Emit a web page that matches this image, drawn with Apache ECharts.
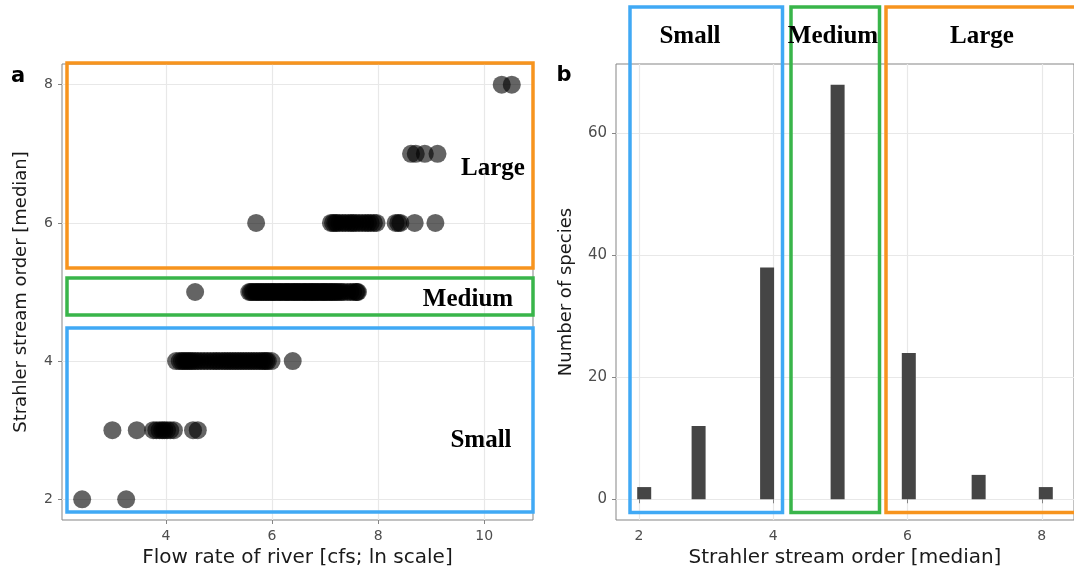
<!DOCTYPE html>
<html>
<head>
<meta charset="utf-8">
<script src="https://cdn.jsdelivr.net/npm/echarts@6/dist/echarts.min.js"></script>
<style>
  html, body { margin: 0; padding: 0; background: #ffffff; }
  #chart { width: 1074px; height: 575px; }
</style>
</head>
<body>
<div id="chart"></div>
<script>
// Panel a: flow rate (ln cfs) of each species' river, grouped by median Strahler order
const flow2 = [2.42, 3.25];
const flow3 = [2.99, 3.45, 3.76, 3.82, 3.88, 3.93, 3.97, 4.02, 4.08, 4.15, 4.51, 4.60];
const flow4 = [4.19, 4.26, 4.30, 4.34, 4.38, 4.42, 4.46, 4.50, 4.55, 4.60,
               4.66, 4.72, 4.78, 4.84, 4.90, 4.95, 5.00, 5.06, 5.11,
               5.16, 5.21, 5.26, 5.31, 5.36, 5.41, 5.46, 5.51, 5.56, 5.61,
               5.66, 5.71, 5.76, 5.81, 5.85, 5.89, 5.92, 5.99, 6.39];
const flow5 = [4.55,
               5.57, 5.60, 5.63, 5.66, 5.70, 5.72, 5.75, 5.79, 5.81, 5.84,
               5.88, 5.90, 5.93, 5.97, 5.99, 6.02, 6.05, 6.07, 6.11, 6.14,
               6.16, 6.19, 6.23, 6.25, 6.28, 6.31, 6.33, 6.37, 6.40, 6.42,
               6.45, 6.48, 6.51, 6.53, 6.57, 6.60, 6.62, 6.65, 6.68, 6.71,
               6.74, 6.76, 6.79, 6.82, 6.85, 6.87, 6.91, 6.94, 6.96, 6.99,
               7.02, 7.04, 7.08, 7.11, 7.13, 7.17, 7.20, 7.23, 7.27, 7.31,
               7.35, 7.42, 7.48, 7.53, 7.58, 7.60, 7.62];
const flow6 = [5.70, 7.11, 7.15, 7.19, 7.22, 7.27, 7.33, 7.38, 7.44, 7.49, 7.53,
               7.58, 7.64, 7.70, 7.76, 7.81, 7.86, 7.92, 7.97, 8.33, 8.38, 8.42, 8.69, 9.08];
const flow7 = [8.62, 8.71, 8.88, 9.12];
const flow8 = [10.33, 10.52];
const flowGroups = [[2, flow2], [3, flow3], [4, flow4], [5, flow5], [6, flow6], [7, flow7], [8, flow8]];

// Panel b: histogram of species per median stream order (bin midpoints and counts)
const binMid = [2.08, 2.89, 3.91, 4.96, 6.02, 7.06, 8.06];
const speciesCount = [2, 12, 38, 68, 24, 4, 2];

// Tick labels
const ticksFlow = [4, 6, 8, 10];
const ticksOrder = [2, 4, 6, 8];
const ticksCount = [0, 20, 40, 60];

const scatterData = [];
flowGroups.forEach(([order, flows]) => flows.forEach(f => scatterData.push([f, order])));
const barData = binMid.map((m, i) => [m, speciesCount[i]]);

const GRID_LINE = '#e8e8e8';
const BORDER = '#858585';
const LABEL = '#4d4d4d';
const SANS = 'DejaVu Sans';
const SERIF = 'Liberation Serif';
const ORANGE = '#f7941e';
const GREEN = '#39b54a';
const BLUE = '#40a9f5';

function axisBase(ticks, min, max) {
  return {
    type: 'value', min, max,
    axisLine: { show: false },
    axisTick: { show: true, length: 4, customValues: ticks, lineStyle: { color: BORDER, width: 1 } },
    axisLabel: { customValues: ticks, color: LABEL, fontFamily: SANS, fontSize: 14 },
    splitLine: { show: true, lineStyle: { color: GRID_LINE, width: 1.2 } },
    nameLocation: 'middle',
    nameTextStyle: { color: '#1a1a1a', fontFamily: SANS }
  };
}

const xA = axisBase(ticksFlow, 2.04, 10.92);
Object.assign(xA, { gridIndex: 0, name: 'Flow rate of river [cfs; ln scale]', nameGap: 26 });
xA.axisLabel.margin = 9;
xA.nameTextStyle.fontSize = 20;

const yA = axisBase(ticksOrder, 1.7, 8.3);
Object.assign(yA, { gridIndex: 0, name: 'Strahler stream order [median]', nameGap: 32 });
yA.axisLabel.margin = 9;
yA.nameTextStyle.fontSize = 18;

const xB = axisBase(ticksOrder, 1.66, 8.48);
Object.assign(xB, { gridIndex: 1, name: 'Strahler stream order [median]', nameGap: 26 });
xB.axisLabel.margin = 9;
xB.nameTextStyle.fontSize = 20;

const yB = axisBase(ticksCount, -3.4, 71.4);
Object.assign(yB, { gridIndex: 1, name: 'Number of species', nameGap: 41 });
yB.axisLabel.margin = 9;
yB.axisLabel.fontSize = 15;
yB.nameTextStyle.fontSize = 18;

function box(x1, y1, x2, y2, color) {
  return {
    type: 'rect', z: 100, silent: true,
    shape: { x: x1, y: y1, width: x2 - x1, height: y2 - y1 },
    style: { fill: 'none', stroke: color, lineWidth: 3.5 }
  };
}
function tag(text, x, y) {
  return {
    type: 'text', z: 101, silent: true, x, y,
    style: { text, fill: '#000', font: 'bold 25px "' + SERIF + '"', align: 'center', verticalAlign: 'middle' }
  };
}
function letter(text, x, y) {
  return {
    type: 'text', z: 101, silent: true, x, y,
    style: { text, fill: '#000', font: 'bold 21px "' + SANS + '"', align: 'center', verticalAlign: 'middle' }
  };
}

const chart = echarts.init(document.getElementById('chart'), null, { renderer: 'canvas' });
chart.setOption({
  animation: false,
  backgroundColor: '#ffffff',
  grid: [
    { left: 62, top: 64, width: 471, height: 456, show: true, borderColor: BORDER, borderWidth: 1, backgroundColor: 'transparent' },
    { left: 616, top: 64, width: 464, height: 456, show: true, borderColor: BORDER, borderWidth: 1, backgroundColor: 'transparent' }
  ],
  xAxis: [xA, xB],
  yAxis: [yA, yB],
  series: [
    {
      type: 'scatter', xAxisIndex: 0, yAxisIndex: 0,
      data: scatterData, symbolSize: 18,
      itemStyle: { color: 'rgba(0,0,0,0.76)' },
      emphasis: { disabled: true }
    },
    {
      type: 'bar', xAxisIndex: 1, yAxisIndex: 1,
      data: barData, barWidth: 14,
      itemStyle: { color: '#454545' },
      emphasis: { disabled: true }
    }
  ],
  graphic: [
    // size-class frames, panel a
    box(67, 63, 533, 268, ORANGE),
    box(67, 278, 533, 315, GREEN),
    box(67, 328, 533, 512, BLUE),
    // size-class frames, panel b
    box(630, 7, 782.5, 512.5, BLUE),
    box(791, 7, 879.5, 512.5, GREEN),
    box(886, 7, 1085, 512.5, ORANGE),
    tag('Large', 493, 169),
    tag('Medium', 468, 300),
    tag('Small', 481, 441),
    tag('Small', 690, 37),
    tag('Medium', 833, 37),
    tag('Large', 982, 37),
    letter('a', 18, 77),
    letter('b', 564, 76)
  ]
});
</script>
</body>
</html>
